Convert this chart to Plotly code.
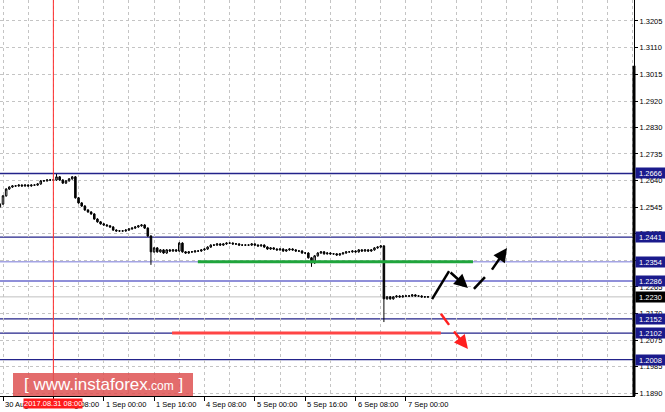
import plotly.graph_objects as go

# ---------------- data ----------------
bar_index = list(range(-1, 136))
closes = [
    1.2558, 1.2587, 1.2611, 1.2618, 1.2622, 1.2622, 1.2625, 1.2622, 1.2625, 1.2622,
    1.2625, 1.2625, 1.2629, 1.2640, 1.2640, 1.2643, 1.2643, 1.2643, 1.2654, 1.2643,
    1.2632, 1.2640, 1.2647, 1.2654, 1.2580, 1.2562, 1.2551, 1.2537, 1.2530, 1.2523,
    1.2505, 1.2495, 1.2488, 1.2484, 1.2481, 1.2477, 1.2466, 1.2463, 1.2463, 1.2463,
    1.2466, 1.2470, 1.2473, 1.2477, 1.2481, 1.2484, 1.2473, 1.2445, 1.2389, 1.2403,
    1.2389, 1.2396, 1.2385, 1.2396, 1.2392, 1.2396, 1.2392, 1.2420, 1.2389, 1.2385,
    1.2389, 1.2389, 1.2392, 1.2392, 1.2396, 1.2399, 1.2406, 1.2413, 1.2413, 1.2417,
    1.2413, 1.2417, 1.2420, 1.2420, 1.2417, 1.2417, 1.2413, 1.2413, 1.2413, 1.2413,
    1.2417, 1.2413, 1.2410, 1.2413, 1.2406, 1.2399, 1.2403, 1.2399, 1.2396, 1.2399,
    1.2392, 1.2396, 1.2399, 1.2396, 1.2392, 1.2392, 1.2385, 1.2385, 1.2368, 1.2350,
    1.2375, 1.2385, 1.2389, 1.2382, 1.2385, 1.2382, 1.2382, 1.2378, 1.2382, 1.2385,
    1.2389, 1.2389, 1.2392, 1.2389, 1.2396, 1.2392, 1.2396, 1.2392, 1.2396, 1.2403,
    1.2406, 1.2410, 1.2223, 1.2230, 1.2223, 1.2230, 1.2233, 1.2230, 1.2233, 1.2233,
    1.2233, 1.2237, 1.2233, 1.2233, 1.2230, 1.2230, 1.2230,
]
first_open = 1.2548
high_overrides = {17: 1.2664, 56: 1.2424, 120: 1.2413}
low_overrides = {47: 1.2343, 98: 1.2336, 121: 1.2141}
wick = 0.0003

x_label_bars = [0, 16, 32, 48, 64, 80, 96, 112, 128]
x_labels = ["30 Aug 2017", "31 Aug 08:00", "1 Sep 00:00", "1 Sep 16:00", "4 Sep 08:00",
            "5 Sep 00:00", "5 Sep 16:00", "6 Sep 08:00", "7 Sep 00:00"]
grid_bars = list(range(0, 201, 8))

y_ticks = [1.1890, 1.1985, 1.2075, 1.2170, 1.2265, 1.2360, 1.2455, 1.2545, 1.2640,
           1.2735, 1.2830, 1.2920, 1.3015, 1.3110, 1.3205]

levels = [1.2666, 1.2441, 1.2354, 1.2286, 1.2152, 1.2102, 1.2008]
level_colors = ["#23238a", "#23238a", "#a4a4e4", "#6a6acc", "#23238a", "#23238a", "#23238a"]
current_price = 1.2230

marker_bar = 16
marker_label = "2017.08.31 08:00"

green_level = (61.9, 149.3, 1.2354)
red_level = (53.7, 139.1, 1.2102)

# arrows: (x_tail, y_tail, x_head, y_head)
black_solid_line = (136.3, 1.2222, 141.7, 1.2321)
black_solid_arrow = (141.7, 1.2321, 147.7, 1.2261)
black_dash_line = (149.6, 1.2258, 153.1, 1.2300)
black_dash_arrow = (155.0, 1.2321, 160.1, 1.2403)
red_dash_line = (139.1, 1.2170, 141.7, 1.2131)
red_dash_arrow = (142.9, 1.2113, 147.7, 1.2046)

# ---------------- build ----------------
opens = [first_open] + closes[:-1]
highs, lows = [], []
for b, o, c in zip(bar_index, opens, closes):
    highs.append(high_overrides.get(b, max(o, c) + wick))
    lows.append(low_overrides.get(b, min(o, c) - wick))

fig = go.Figure()
fig.add_trace(go.Candlestick(
    x=bar_index, open=opens, high=highs, low=lows, close=closes,
    increasing=dict(line=dict(color="black", width=1), fillcolor="white"),
    decreasing=dict(line=dict(color="black", width=1), fillcolor="black"),
    whiskerwidth=0, showlegend=False, hoverinfo="skip",
))

shapes = []
annotations = []

for v, col in zip(levels, level_colors):
    shapes.append(dict(type="line", xref="paper", x0=0, x1=1, yref="y", y0=v, y1=v,
                       line=dict(color=col, width=1.3), layer="below"))
shapes.append(dict(type="line", xref="paper", x0=0, x1=1, yref="y", y0=current_price, y1=current_price,
                   line=dict(color="#c0c0c0", width=1), layer="below"))

shapes.append(dict(type="line", xref="x", x0=marker_bar, x1=marker_bar, yref="paper", y0=0, y1=1,
                   line=dict(color="#ff2a2a", width=1)))

shapes.append(dict(type="line", xref="x", x0=green_level[0], x1=green_level[1], yref="y",
                   y0=green_level[2], y1=green_level[2], line=dict(color="#1fa53c", width=3)))
shapes.append(dict(type="line", xref="x", x0=red_level[0], x1=red_level[1], yref="y",
                   y0=red_level[2], y1=red_level[2], line=dict(color="#ff4545", width=3)))

for seg, col in [(black_solid_line, "black"), (black_dash_line, "black"), (red_dash_line, "#ff2020")]:
    shapes.append(dict(type="line", xref="x", yref="y", x0=seg[0], y0=seg[1], x1=seg[2], y1=seg[3],
                       line=dict(color=col, width=2.5)))
for seg, col in [(black_solid_arrow, "black"), (black_dash_arrow, "black"), (red_dash_arrow, "#ff2020")]:
    annotations.append(dict(x=seg[2], y=seg[3], ax=seg[0], ay=seg[1], xref="x", yref="y",
                            axref="x", ayref="y", text="", showarrow=True, arrowhead=2,
                            arrowsize=1.1, arrowwidth=2.5, arrowcolor=col))

shapes.append(dict(type="line", xref="paper", x0=1, x1=1, yref="y", y0=1.3047, y1=1.18797,
                   line=dict(color="black", width=3)))

shapes.append(dict(type="rect", xref="paper", yref="paper", x0=13 / 634, x1=193 / 634,
                   y0=0.0, y1=1 - 373 / 396, fillcolor="rgba(222,82,82,0.85)",
                   line=dict(width=0), layer="above"))
annotations.append(dict(xref="paper", yref="paper", x=103 / 634, y=(1 - 373 / 396) / 2,
                        text="[ www.instaforex<span style='font-size:12px'>.com</span> ]",
                        showarrow=False, font=dict(family="Liberation Sans", size=17, color="white"),
                        xanchor="center", yanchor="middle"))

for b, t in zip(x_label_bars, x_labels):
    annotations.append(dict(x=b, y=0, xref="x", yref="paper", text=t, showarrow=False,
                            xanchor="left", yanchor="top", xshift=0, yshift=-2,
                            font=dict(family="Liberation Sans", size=7.5, color="black")))
annotations.append(dict(x=marker_bar, y=0, xref="x", yref="paper", text=marker_label, showarrow=False,
                        xanchor="center", yanchor="top", yshift=-2, bgcolor="#ff1a1a", borderpad=0,
                        font=dict(family="Liberation Sans", size=7.5, color="white")))

for v in levels:
    annotations.append(dict(x=1, y=v, xref="paper", yref="y", text=f"{v:.4f}", showarrow=False,
                            xanchor="left", yanchor="middle", xshift=1, bgcolor="#1a1a8c",
                            borderpad=0, width=29, height=10,
                            font=dict(family="Liberation Sans", size=7.5, color="white")))
annotations.append(dict(x=1, y=current_price, xref="paper", yref="y", text=f"{current_price:.4f}",
                        showarrow=False, xanchor="left", yanchor="middle", xshift=1, bgcolor="black",
                        borderpad=0, width=29, height=10,
                        font=dict(family="Liberation Sans", size=7.5, color="white")))

fig.update_layout(
    width=665, height=412,
    margin=dict(l=0, r=31, t=0, b=16, autoexpand=False),
    paper_bgcolor="white", plot_bgcolor="white",
    shapes=shapes, annotations=annotations,
    showlegend=False,
    xaxis=dict(
        range=[-0.953, 200.45], tickvals=grid_bars, showticklabels=False, ticks="",
        showgrid=True, gridcolor="#c4c4c4", griddash="3px,3px", gridwidth=1,
        showline=True, linecolor="black", linewidth=1, zeroline=False,
        rangeslider=dict(visible=False), fixedrange=True, automargin=False,
        minor=dict(tickvals=x_label_bars, ticks="outside", ticklen=4, tickcolor="black", showgrid=False),
    ),
    yaxis=dict(
        side="right", range=[1.18797, 1.3279], tickvals=y_ticks,
        ticktext=[f"{v:.4f}" for v in y_ticks], ticks="outside", ticklen=3, tickcolor="black",
        tickfont=dict(family="Liberation Sans", size=7.5, color="black"),
        showgrid=True, gridcolor="#c4c4c4", griddash="3px,3px", gridwidth=1,
        showline=True, linecolor="black", linewidth=1, zeroline=False, fixedrange=True,
        automargin=False,
    ),
)

fig.write_html("out.html", config={"displayModeBar": False},
               post_script="document.body.style.margin='0';document.body.style.padding='0';")
